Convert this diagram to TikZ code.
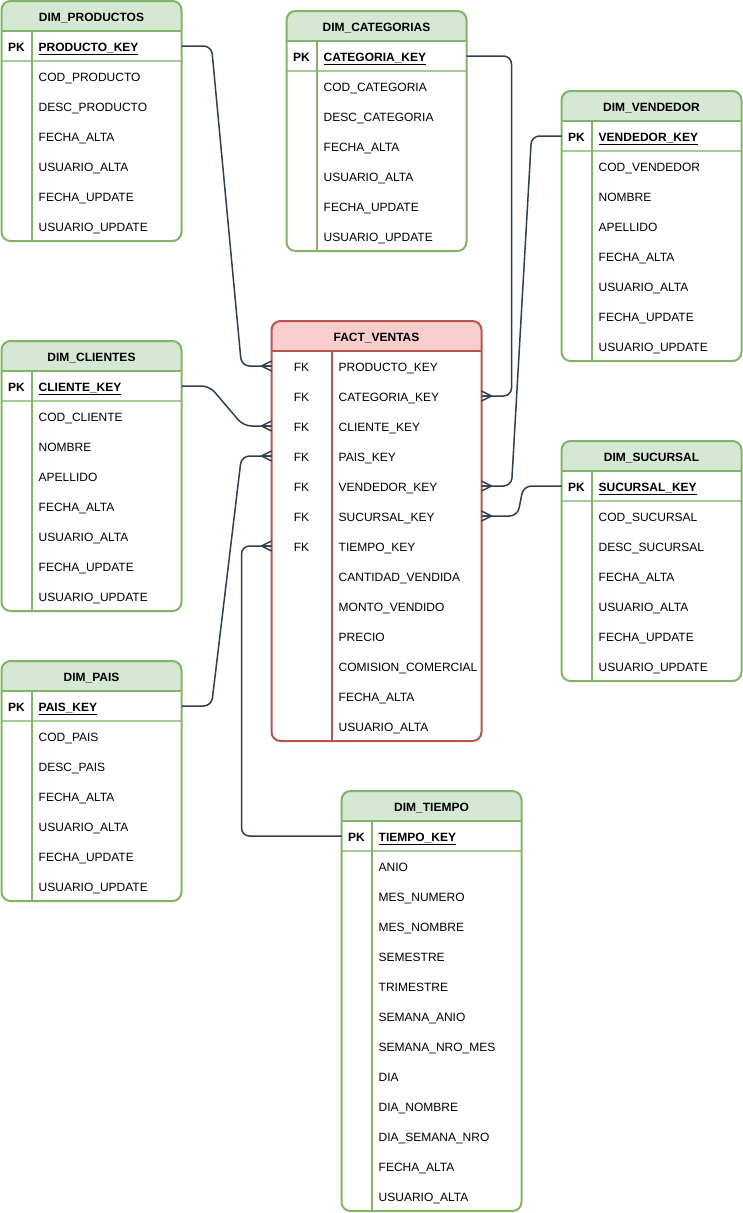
\documentclass[tikz,border=0pt]{standalone}
\usepackage{fontspec}
\setmainfont{Liberation Sans}
\usetikzlibrary{positioning,calc}

\definecolor{dimfill}{HTML}{D5E8D4}
\definecolor{dimline}{HTML}{82B366}
\definecolor{factfill}{HTML}{F8CECC}
\definecolor{factline}{HTML}{B85450}
\definecolor{relline}{HTML}{2F3E50}

\tikzstyle{texto} = [inner sep=0pt, text height=10pt, text depth=0pt, font=\fontsize{12}{14}\selectfont]
\tikzstyle{titulo} = [texto, font=\fontsize{12}{14}\selectfont\bfseries]
\tikzstyle{campo} = [texto, anchor=west]
\tikzstyle{clave} = [campo, font=\fontsize{12}{14}\selectfont\bfseries]
\tikzstyle{borde} = [line width=2pt, rounded corners=9pt]
\tikzstyle{relacion} = [draw=relline, line width=1.5pt, rounded corners=8pt]
\tikzset{muchos/.pic={\draw[relline, line width=1.5pt] (-10,0) -- (0,-5) (-10,0) -- (0,0) (-10,0) -- (0,5);}}

% #1 name, #2 x, #3 y, #4 title, #5 key, #6 number of fields, #7 fields
\newcommand{\tabladim}[7]{
  \begin{scope}
    \clip[rounded corners=9pt] (#2,#3) rectangle ++(180,60+30*#6);
    \fill[white] (#2,#3) rectangle ++(180,60+30*#6);
    \fill[dimfill] (#2,#3) rectangle ++(180,30);
  \end{scope}
  \draw[dimline!70, line width=1.5pt] (#2,#3+60) -- ++(180,0);
  \draw[dimline, line width=2pt] (#2,#3+30) -- ++(180,0);
  \draw[dimline, line width=2pt] (#2+30,#3+30) -- ++(0,30+30*#6);
  \draw[dimline, borde] (#2,#3) rectangle ++(180,60+30*#6);
  \node[titulo] (#1) at (#2+90,#3+15) {#4};
  \node[titulo] (#1-pk) at (#2+15,#3+45) {PK};
  \node[clave] (#1-key) at (#2+37,#3+45) {\underline{#5}};
  \coordinate (#1-l) at (#2,#3+45);
  \coordinate (#1-r) at (#2+180,#3+45);
  \foreach \campo [count=\i] in {#7}
    \node[campo] (#1-\i) at (#2+37,#3+45+30*\i) {\campo};
}

\begin{document}
\begin{tikzpicture}[x=1pt, y=-1pt]
\useasboundingbox (0,0) rectangle (743,1213);

% We start by placing the dimension tables
\tabladim{productos}{1.5}{1}{DIM\_PRODUCTOS}{PRODUCTO\_KEY}{6}{COD\_PRODUCTO, DESC\_PRODUCTO, FECHA\_ALTA, USUARIO\_ALTA, FECHA\_UPDATE, USUARIO\_UPDATE}
\tabladim{categorias}{286.5}{11}{DIM\_CATEGORIAS}{CATEGORIA\_KEY}{6}{COD\_CATEGORIA, DESC\_CATEGORIA, FECHA\_ALTA, USUARIO\_ALTA, FECHA\_UPDATE, USUARIO\_UPDATE}
\tabladim{vendedor}{561.5}{91}{DIM\_VENDEDOR}{VENDEDOR\_KEY}{7}{COD\_VENDEDOR, NOMBRE, APELLIDO, FECHA\_ALTA, USUARIO\_ALTA, FECHA\_UPDATE, USUARIO\_UPDATE}
\tabladim{clientes}{1.5}{341}{DIM\_CLIENTES}{CLIENTE\_KEY}{7}{COD\_CLIENTE, NOMBRE, APELLIDO, FECHA\_ALTA, USUARIO\_ALTA, FECHA\_UPDATE, USUARIO\_UPDATE}
\tabladim{sucursal}{561.5}{441}{DIM\_SUCURSAL}{SUCURSAL\_KEY}{6}{COD\_SUCURSAL, DESC\_SUCURSAL, FECHA\_ALTA, USUARIO\_ALTA, FECHA\_UPDATE, USUARIO\_UPDATE}
\tabladim{pais}{1.5}{661}{DIM\_PAIS}{PAIS\_KEY}{6}{COD\_PAIS, DESC\_PAIS, FECHA\_ALTA, USUARIO\_ALTA, FECHA\_UPDATE, USUARIO\_UPDATE}
\tabladim{tiempo}{341.5}{791}{DIM\_TIEMPO}{TIEMPO\_KEY}{12}{ANIO, MES\_NUMERO, MES\_NOMBRE, SEMESTRE, TRIMESTRE, SEMANA\_ANIO, SEMANA\_NRO\_MES, DIA, DIA\_NOMBRE, DIA\_SEMANA\_NRO, FECHA\_ALTA, USUARIO\_ALTA}

% The fact table in the middle
\begin{scope}
  \clip[rounded corners=9pt] (271.5,321) rectangle ++(210,420);
  \fill[white] (271.5,321) rectangle ++(210,420);
  \fill[factfill] (271.5,321) rectangle ++(210,30);
\end{scope}
\draw[factline, line width=2pt] (271.5,351) -- ++(210,0);
\draw[factline, line width=2pt] (331.5,351) -- ++(0,390);
\draw[factline, borde] (271.5,321) rectangle ++(210,420);
\node[titulo] (fact) at (376.5,336) {FACT\_VENTAS};
\foreach \campo [count=\i] in {PRODUCTO\_KEY, CATEGORIA\_KEY, CLIENTE\_KEY, PAIS\_KEY, VENDEDOR\_KEY, SUCURSAL\_KEY, TIEMPO\_KEY, CANTIDAD\_VENDIDA, MONTO\_VENDIDO, PRECIO, COMISION\_COMERCIAL, FECHA\_ALTA, USUARIO\_ALTA}{
  \node[campo] (fact-\i) at (338.5,336+30*\i) {\campo};
  \coordinate (fact-l\i) at (271.5,336+30*\i);
  \coordinate (fact-r\i) at (481.5,336+30*\i);
}
\foreach \i in {1,...,7}
  \node[texto] (fk-\i) at (301.5,336+30*\i) {FK};

% Once the tables are placed, connecting them is easy.
\draw[relacion] (productos-r) -- ++(30,0) -- ($(fact-l1)+(-30,0)$) -- (fact-l1);
\draw[relacion] (categorias-r) -| ($(fact-r2)+(30,0)$) -- (fact-r2);
\draw[relacion] (clientes-r) -- ++(28,0) -- ($(fact-l3)+(-28,0)$) -- (fact-l3);
\draw[relacion] (pais-r) -- ++(30,0) -- ($(fact-l4)+(-30,0)$) -- (fact-l4);
\draw[relacion] (vendedor-l) -- ++(-30,0) -- ($(fact-r5)+(30,0)$) -- (fact-r5);
\draw[relacion] (sucursal-l) -- ++(-38,0) -- ($(fact-r6)+(36,0)$) -- (fact-r6);
\draw[relacion] (tiempo-l) -| ($(fact-l7)+(-30,0)$) -- (fact-l7);

% crow's feet on the fact side
\foreach \i in {1,3,4,7}
  \pic at (fact-l\i) {muchos};
\foreach \i in {2,5,6}
  \pic[xscale=-1] at (fact-r\i) {muchos};
\end{tikzpicture}
\end{document}
